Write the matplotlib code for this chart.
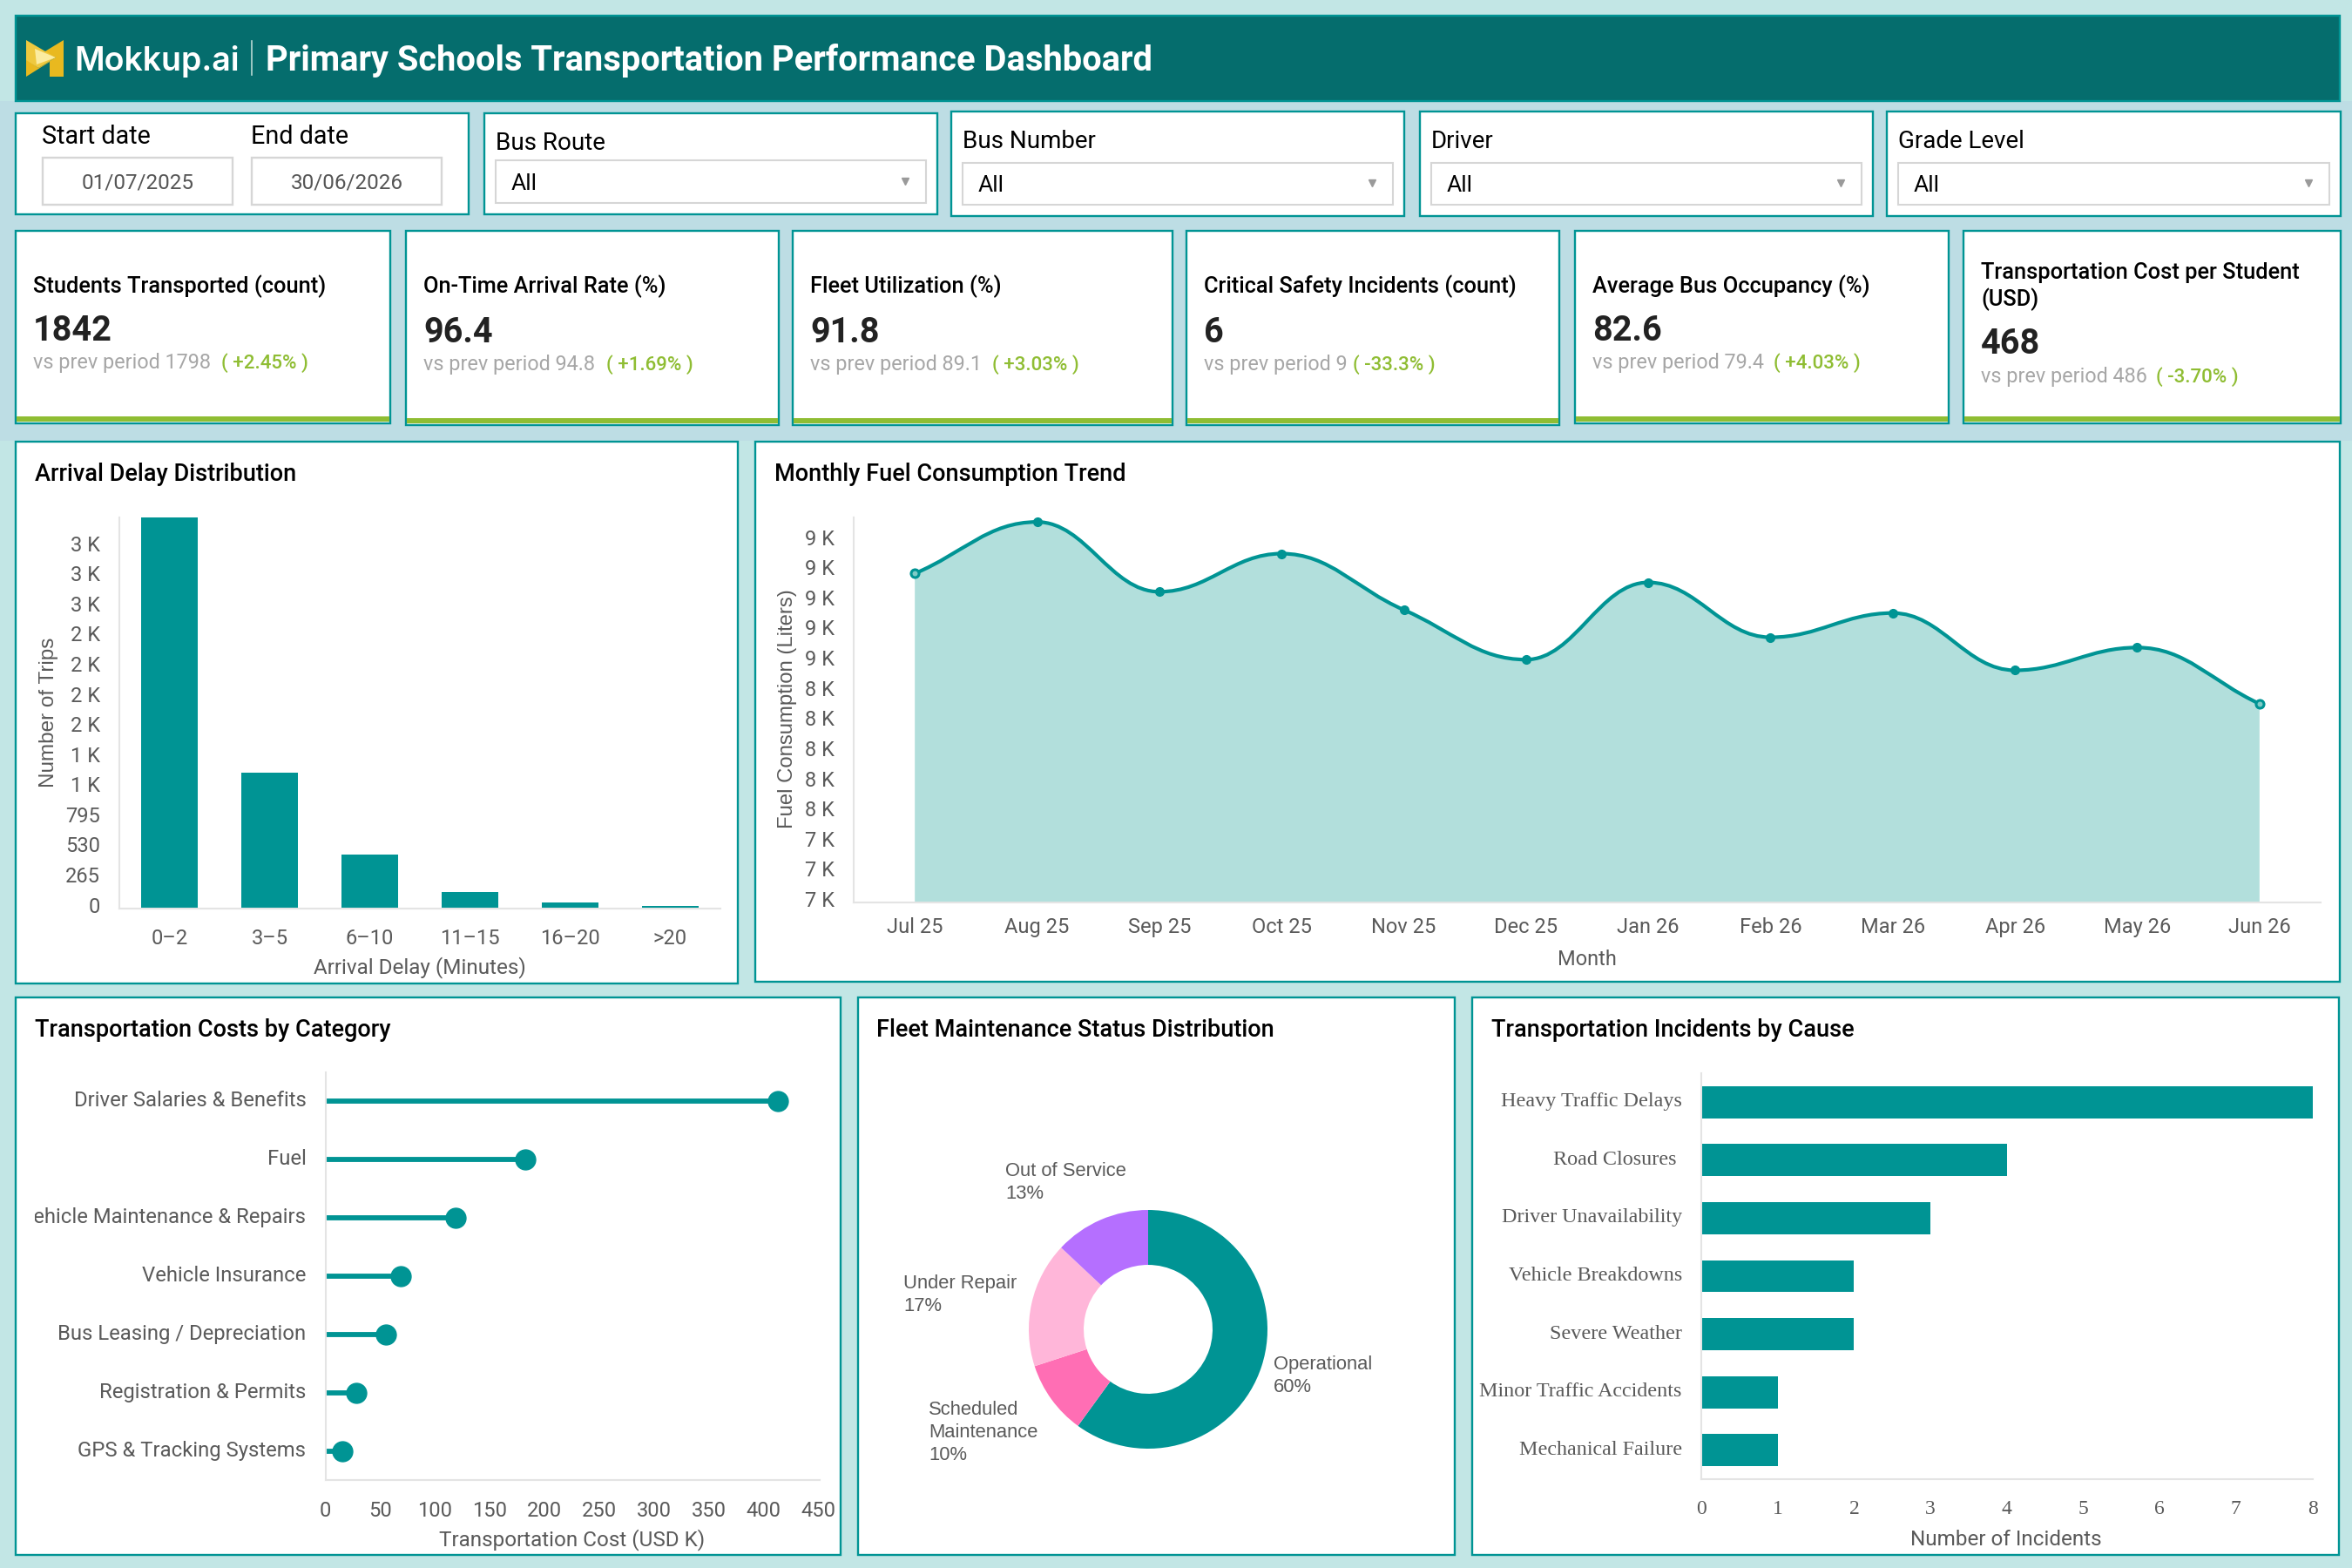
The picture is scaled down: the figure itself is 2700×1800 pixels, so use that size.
import matplotlib
matplotlib.use('Agg')
import matplotlib.pyplot as plt
import numpy as np
from matplotlib.patches import Rectangle, Polygon, PathPatch
from matplotlib.path import Path
from matplotlib.transforms import Bbox, ScaledTranslation

W, H = 2700, 1800
TEAL = "#009494"
DARK = "#056d6d"
GREEN = "#8fbd33"
GRID = "#e4e4e4"
LABEL = "#5a5a5a"

# kpi cards
kpi_titles = ["Students Transported (count)", "On-Time Arrival Rate (%)", "Fleet Utilization (%)",
              "Critical Safety Incidents (count)", "Average Bus Occupancy (%)",
              "Transportation Cost per Student\n(USD)"]
kpi_values = ["1842", "96.4", "91.8", "6", "82.6", "468"]
kpi_prev = ["1798", "94.8", "89.1", "9", "79.4", "486"]
kpi_delta = ["+2.45%", "+1.69%", "+3.03%", "-33.3%", "+4.03%", "-3.70%"]

# arrival delay
delay_bins = ["0\u20132", "3\u20135", "6\u201310", "11\u201315", "16\u201320", ">20"]
delay_trips = [3438, 1192, 472, 138, 50, 19]
delay_ticks = [0, 265, 530, 795, 1060, 1325, 1590, 1855, 2120, 2385, 2650, 2915, 3180]
delay_ticklabels = ["0", "265", "530", "795", "1 K", "1 K", "2 K", "2 K", "2 K", "2 K", "3 K", "3 K", "3 K"]

# fuel
months = ["Jul 25", "Aug 25", "Sep 25", "Oct 25", "Nov 25", "Dec 25", "Jan 26", "Feb 26", "Mar 26", "Apr 26",
          "May 26", "Jun 26"]
fuel = [9082, 9424, 8961, 9214, 8841, 8511, 9023, 8659, 8820, 8440, 8591, 8218]
fuel_ticks = [6900, 7100, 7300, 7500, 7700, 7900, 8100, 8300, 8500, 8700, 8900, 9100, 9300]
fuel_ticklabels = ["7 K", "7 K", "7 K", "8 K", "8 K", "8 K", "8 K", "8 K", "9 K", "9 K", "9 K", "9 K", "9 K"]

# costs
cost_names = ["Driver Salaries & Benefits", "Fuel", "Vehicle Maintenance & Repairs", "Vehicle Insurance",
              "Bus Leasing / Depreciation", "Registration & Permits", "GPS & Tracking Systems"]
cost_values = [413, 182.6, 118.7, 69, 54.8, 27.9, 15.7]
cost_ticks = [0, 50, 100, 150, 200, 250, 300, 350, 400, 450]

# fleet status
status_names = ["Operational", "Scheduled\nMaintenance", "Under Repair", "Out of Service"]
status_values = [60, 10, 17, 13]
status_colors = [TEAL, "#ff6eb4", "#ffb6d9", "#b56fff"]

# incidents
cause_names = ["Heavy Traffic Delays", "Road Closures\u00a0", "Driver Unavailability", "Vehicle Breakdowns",
               "Severe Weather", "Minor Traffic Accidents", "Mechanical Failure"]
cause_counts = [8, 4, 3, 2, 2, 1, 1]

fig = plt.figure(figsize=(27, 18), dpi=100, facecolor="#c2e6e5")
plt.rcParams['font.family'] = ['Roboto', 'DejaVu Sans']

bg = fig.add_axes([0, 0, 1, 1], zorder=0)
bg.set_xlim(0, W)
bg.set_ylim(H, 0)
bg.axis('off')


def box(x0, y0, x1, y1, face="white", edge=TEAL, lw=1.7, z=2):
    bg.add_patch(Rectangle((x0, y0), x1 - x0, y1 - y0, facecolor=face, edgecolor=edge, linewidth=lw, zorder=z))


def txt(x, y, s, size=16, color="black", weight="normal", ha="left", family=None, **kw):
    return bg.text(x, y, s, fontsize=size, color=color, fontweight=weight, ha=ha, va="center",
                   family=family or ['Roboto', 'DejaVu Sans'], zorder=5, **kw)


def add_ax(x0, y0, x1, y1):
    ax = fig.add_axes([x0 / W, 1 - y1 / H, (x1 - x0) / W, (y1 - y0) / H], zorder=1)
    ax.patch.set_visible(False)
    for s in ["top", "right"]:
        ax.spines[s].set_visible(False)
    for s in ["left", "bottom"]:
        ax.spines[s].set_color(GRID)
        ax.spines[s].set_linewidth(1.5)
    return ax


def raise_labels(ax, px):
    # the source draws y labels a little above their row
    for lab in ax.get_yticklabels():
        lab.set_transform(lab.get_transform() + ScaledTranslation(0, px / 100, fig.dpi_scale_trans))


# background tint behind the top rows
bg.add_patch(Rectangle((0, 116), W, 390, facecolor="#bddde4", edgecolor="none", zorder=1))

# header
box(18, 18, 2686, 116, face=DARK)
bg.add_patch(Polygon([(30, 68), (30, 88), (57, 71), (57, 88), (73, 88), (73, 46), (50, 60), (64, 66), (44, 78)],
                     facecolor="#e9b91f", edgecolor="none", zorder=4))
bg.add_patch(Polygon([(30, 46), (64, 66), (44, 78), (30, 69)], facecolor="#efc93f", edgecolor="none", zorder=4))
bg.add_patch(Polygon([(40, 56), (64, 66), (42, 74)], facecolor="#fbeca0", edgecolor="none", zorder=4))
txt(85, 70.5, "Mokkup.ai", size=27, color="white", weight="semibold", family=["Inter", "Roboto"])
bg.plot([288.5, 288.5], [47, 86], color="#b9d8d4", lw=1.2, zorder=4)
txt(305, 69.5, "Primary Schools Transportation Performance Dashboard", size=28.7, color="white", weight="semibold")

# date filter
box(18, 130, 538, 246)
txt(48, 157, "Start date", size=20.7)
txt(288, 157, "End date", size=20.7)
box(49, 181, 267, 235, edge="#d6d6d6", z=3)
box(289, 181, 507, 235, edge="#d6d6d6", z=3)
txt(158, 210, "01/07/2025", size=17.5, color="#555555", ha="center")
txt(398, 210, "30/06/2026", size=17.5, color="#555555", ha="center")

# dropdown filters
filter_boxes = [(556, 130, 1076, 246), (1092, 128, 1612, 248), (1630, 128, 2150, 248), (2166, 128, 2687, 248)]
filter_names = ["Bus Route", "Bus Number", "Driver", "Grade Level"]
for (x0, y0, x1, y1), name in zip(filter_boxes, filter_names):
    box(x0, y0, x1, y1)
    off = 0 if y0 == 128 else -2
    txt(x0 + 13, 163 + abs(off), name, size=20)
    box(x0 + 13, 187 + off * 1.5, x1 - 13, 235 + off, edge="#d6d6d6", lw=1.5, z=3)
    txt(x0 + 31, 213 + off, "All", size=19)
    bg.plot([x1 - 37], [210 + off], marker="v", ms=6, color="#9a9a9a", zorder=5)

# kpi cards
card_x = [(18, 448), (466, 894), (910, 1346), (1362, 1790), (1808, 2237), (2254, 2687)]
card_bottom = [486, 488, 488, 488, 486, 486]
delta_x = [254, 696, 1139, 1553, 2036, 2475]
for i in range(6):
    x0, x1 = card_x[i]
    b = card_bottom[i]
    box(x0, 265, x1, b)
    bg.add_patch(Rectangle((x0 + 1, b - 8), x1 - x0 - 2, 6, facecolor=GREEN, edgecolor="none", zorder=4))
    tx = x0 + 20
    two = "\n" in kpi_titles[i]
    shift = 0 if b == 488 else -2
    if two:
        a, c = kpi_titles[i].split("\n")
        txt(tx, 313, a, size=18.3, weight="medium")
        txt(tx, 344, c, size=18.3, weight="medium")
        yv, ys = 395, 433
    else:
        txt(tx, 329, kpi_titles[i], size=18.3, weight="medium")
        yv, ys = 382 + shift, 419 + shift
    txt(tx, yv, kpi_values[i], size=28.5, color="#222222", weight="bold")
    txt(tx, ys, "vs prev period " + kpi_prev[i], size=16.8, color="#a6a6a6")
    txt(delta_x[i], ys, "( " + kpi_delta[i] + " )", size=16, color=GREEN, weight="medium")

# chart panels
panels = [(18, 507, 847, 1129), (867, 507, 2686, 1127), (18, 1145, 965, 1785), (985, 1145, 1670, 1785),
          (1690, 1145, 2685, 1785)]
panel_titles = ["Arrival Delay Distribution", "Monthly Fuel Consumption Trend", "Transportation Costs by Category",
                "Fleet Maintenance Status Distribution", "Transportation Incidents by Cause"]
title_pos = [(40.5, 545), (889, 545), (40, 1183), (1006.5, 1183), (1712.5, 1183)]
for p, t, (tx, ty) in zip(panels, panel_titles, title_pos):
    box(*p)
    txt(tx, ty, t, size=19.5, weight="medium")

# arrival delay chart
ax1 = add_ax(137, 594, 827, 1042.5)
ax1.bar(range(6), delay_trips, width=0.56, color=TEAL)
ax1.set_xlim(-0.5, 5.5)
ax1.set_ylim(0, 3438)
ax1.set_xticks(range(6), delay_bins)
ax1.set_yticks(delay_ticks, delay_ticklabels)
ax1.tick_params(axis='x', length=0, pad=17, labelsize=17, labelcolor=LABEL)
ax1.tick_params(axis='y', length=0, pad=16, labelsize=17, labelcolor=LABEL)
raise_labels(ax1, 4)
ax1.set_xlabel("Arrival Delay (Minutes)", fontsize=17.5, color=LABEL, va="center")
ax1.xaxis.set_label_coords(482, 1111, transform=bg.transData)
ax1.set_ylabel("Number of Trips", fontsize=17.5, color=LABEL, va="center", family="Liberation Sans")
ax1.yaxis.set_label_coords(56, 818, transform=bg.transData)

# fuel chart
ax2 = add_ax(980, 594, 2664, 1036)
xs = np.arange(12)
ys = np.array(fuel, dtype=float)
slopes = np.zeros(12)
for i in range(1, 11):
    if (ys[i] - ys[i - 1]) * (ys[i + 1] - ys[i]) > 0:
        slopes[i] = (ys[i + 1] - ys[i - 1]) / 2
slopes[0] = ys[1] - ys[0]
slopes[-1] = ys[-1] - ys[-2]
verts = [(xs[0], ys[0])]
codes = [Path.MOVETO]
for i in range(11):
    verts += [(xs[i] + 0.4, ys[i] + slopes[i] * 0.4), (xs[i + 1] - 0.4, ys[i + 1] - slopes[i + 1] * 0.4),
              (xs[i + 1], ys[i + 1])]
    codes += [Path.CURVE4] * 3
fill_verts = verts + [(xs[-1], 6900), (xs[0], 6900), (xs[0], ys[0])]
fill_codes = codes + [Path.LINETO, Path.LINETO, Path.CLOSEPOLY]
ax2.add_patch(PathPatch(Path(fill_verts, fill_codes), facecolor="#b2dfdc", edgecolor="none"))
ax2.add_patch(PathPatch(Path(verts, codes), facecolor="none", edgecolor=TEAL, linewidth=3, clip_on=False))
ax2.plot(xs, ys, 'o', color=TEAL, ms=7, clip_on=False)
ax2.plot(xs[[0, -1]], ys[[0, -1]], 'o', mfc="#7fcbc7", mec=TEAL, mew=2.2, ms=6.5, clip_on=False)
ax2.set_xlim(-0.5, 11.5)
ax2.set_ylim(6900, 9454)
ax2.set_xticks(xs, months)
ax2.set_yticks(fuel_ticks, fuel_ticklabels)
ax2.tick_params(axis='x', length=0, pad=12.5, labelsize=17, labelcolor=LABEL)
ax2.tick_params(axis='y', length=0, pad=16, labelsize=17, labelcolor=LABEL)
raise_labels(ax2, 4)
ax2.set_xlabel("Month", fontsize=17, color=LABEL, va="center")
ax2.xaxis.set_label_coords(1822, 1102, transform=bg.transData)
ax2.set_ylabel("Fuel Consumption (Liters)", fontsize=17.2, color=LABEL, va="center", family="Liberation Sans")
ax2.yaxis.set_label_coords(904, 814, transform=bg.transData)

# cost lollipop
ax3 = add_ax(373.7, 1231, 941, 1699)
rows = np.arange(7)
ax3.hlines(rows, 0, cost_values, color=TEAL, lw=4.2)
ax3.plot(cost_values, rows, 'o', color=TEAL, ms=16.5, clip_on=False)
ax3.set_xlim(0, 451)
ax3.set_ylim(6.5, -0.5)
ax3.set_xticks(cost_ticks)
ax3.set_yticks(rows, cost_names)
ax3.tick_params(axis='x', length=0, pad=17, labelsize=17, labelcolor=LABEL)
ax3.tick_params(axis='y', length=0, pad=16, labelsize=17.2, labelcolor=LABEL)
raise_labels(ax3, 3)
for lab in ax3.get_yticklabels():
    lab.set_clip_on(True)
    lab.set_clip_box(Bbox.from_extents(39.5, 0, W, H))
ax3.set_xlabel("Transportation Cost (USD K)", fontsize=17.5, color=LABEL, va="center")
ax3.xaxis.set_label_coords(657, 1768, transform=bg.transData)

# donut
ax4 = fig.add_axes([(1318 - 137) / W, 1 - (1526 + 137) / H, 274 / W, 274 / H], zorder=1)
ax4.pie(status_values, colors=status_colors, startangle=90, counterclock=False, radius=1,
        wedgeprops=dict(width=0.46, linewidth=0))
ax4.set_xlim(-1, 1)
ax4.set_ylim(-1, 1)
label_pos = [(1462, 1556), (1066, 1608), (1037, 1463), (1154.5, 1334)]
for name, val, (lx, ly) in zip(status_names, status_values, label_pos):
    bg.text(lx, ly, f"{name}\n{val}%", fontsize=15.8, color=LABEL, family="Liberation Sans", ha="left", va="top",
            linespacing=1.32, zorder=5)

# incidents
ax5 = add_ax(1953, 1232, 2654.5, 1698)
ax5.barh(rows, cause_counts, height=0.555, color=TEAL)
ax5.set_xlim(0, 8)
ax5.set_ylim(6.5, -0.5)
ax5.set_xticks(range(9))
ax5.set_yticks(rows, cause_names, family="Liberation Serif")
ax5.tick_params(axis='x', length=0, pad=17, labelsize=17, labelcolor=LABEL, labelfontfamily="Liberation Serif")
ax5.tick_params(axis='y', length=0, pad=16, labelsize=17.4, labelcolor=LABEL)
raise_labels(ax5, 3)
ax5.set_xlabel("Number of Incidents", fontsize=17.5, color=LABEL, va="center")
ax5.xaxis.set_label_coords(2303, 1768, transform=bg.transData)

fig.savefig("out.png", dpi=100, facecolor=fig.get_facecolor())
